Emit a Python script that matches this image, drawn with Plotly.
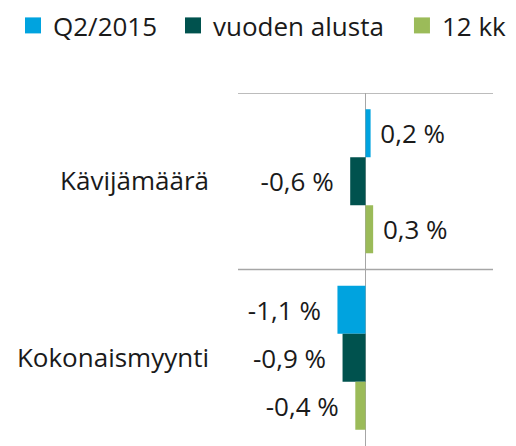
import plotly.graph_objects as go

categories = ["Kävijämäärä", "Kokonaismyynti"]
series_names = ["Q2/2015", "vuoden alusta", "12 kk"]
q2_2015 = [0.2, -1.1]
vuoden_alusta = [-0.6, -0.9]
kk12 = [0.3, -0.4]
colors = ["#00A3DF", "#00524E", "#9BBB59"]
legend_x = [0.0252, 0.3353, 0.779]

FONT = "Open Sans"
NB = "\u00a0"


def labels(vals):
    out = []
    for v in vals:
        s = f"{v:.1f}".replace(".", ",") + " %"
        out.append(NB + s if v >= 0 else s + NB + NB)
    return out


fig = go.Figure()
legend_ids = ["legend", "legend2", "legend3"]
for name, vals, col in zip(series_names, [q2_2015, vuoden_alusta, kk12], colors):
    fig.add_trace(go.Bar(
        y=categories, x=vals, name=name, orientation="h",
        marker=dict(color=col, line=dict(width=0)),
        text=labels(vals), textposition="outside", cliponaxis=False,
        constraintext="none",
        textfont=dict(family=FONT, size=26, color="#1a1a1a"),
        hoverinfo="skip", showlegend=False,
    ))

# legend entries (square swatches)
for name, col, lid in zip(series_names, colors, legend_ids):
    fig.add_trace(go.Scatter(
        x=[None], y=[None], mode="markers", name=name,
        marker=dict(symbol="square", size=16, color=col, line=dict(width=0)),
        showlegend=True, legend=lid, hoverinfo="skip",
    ))

# category separator lines
for yb in [-0.5, 0.5]:
    fig.add_shape(type="line", xref="paper", x0=0, x1=1, yref="y", y0=yb, y1=yb,
                  line=dict(color="#A6A6A6", width=1.3), layer="below")

leg_common = dict(orientation="h", xref="container", yref="container",
                  y=0.9955, xanchor="left", yanchor="top", itemsizing="trace",
                  font=dict(family=FONT, size=26, color="#1a1a1a"),
                  bgcolor="rgba(0,0,0,0)")

fig.update_layout(
    width=516, height=446,
    margin=dict(l=238, r=23, t=93, b=0, autoexpand=False),
    paper_bgcolor="white", plot_bgcolor="white",
    barmode="group", bargap=0.184, bargroupgap=0,
    font=dict(family=FONT, size=26, color="#1a1a1a"),
    showlegend=True,
    legend=dict(x=legend_x[0], **leg_common),
    legend2=dict(x=legend_x[1], **leg_common),
    legend3=dict(x=legend_x[2], **leg_common),
    xaxis=dict(range=[-5, 5], showticklabels=False, showgrid=False,
               zeroline=True, zerolinecolor="#A6A6A6", zerolinewidth=1.3,
               showline=False, fixedrange=True),
    yaxis=dict(range=[1.5, -0.5], showgrid=False, zeroline=False, showline=False,
               ticks="", ticklabelstandoff=28,
               tickfont=dict(family=FONT, size=26, color="#1a1a1a"), fixedrange=True),
)

fig.write_html("out.html")
